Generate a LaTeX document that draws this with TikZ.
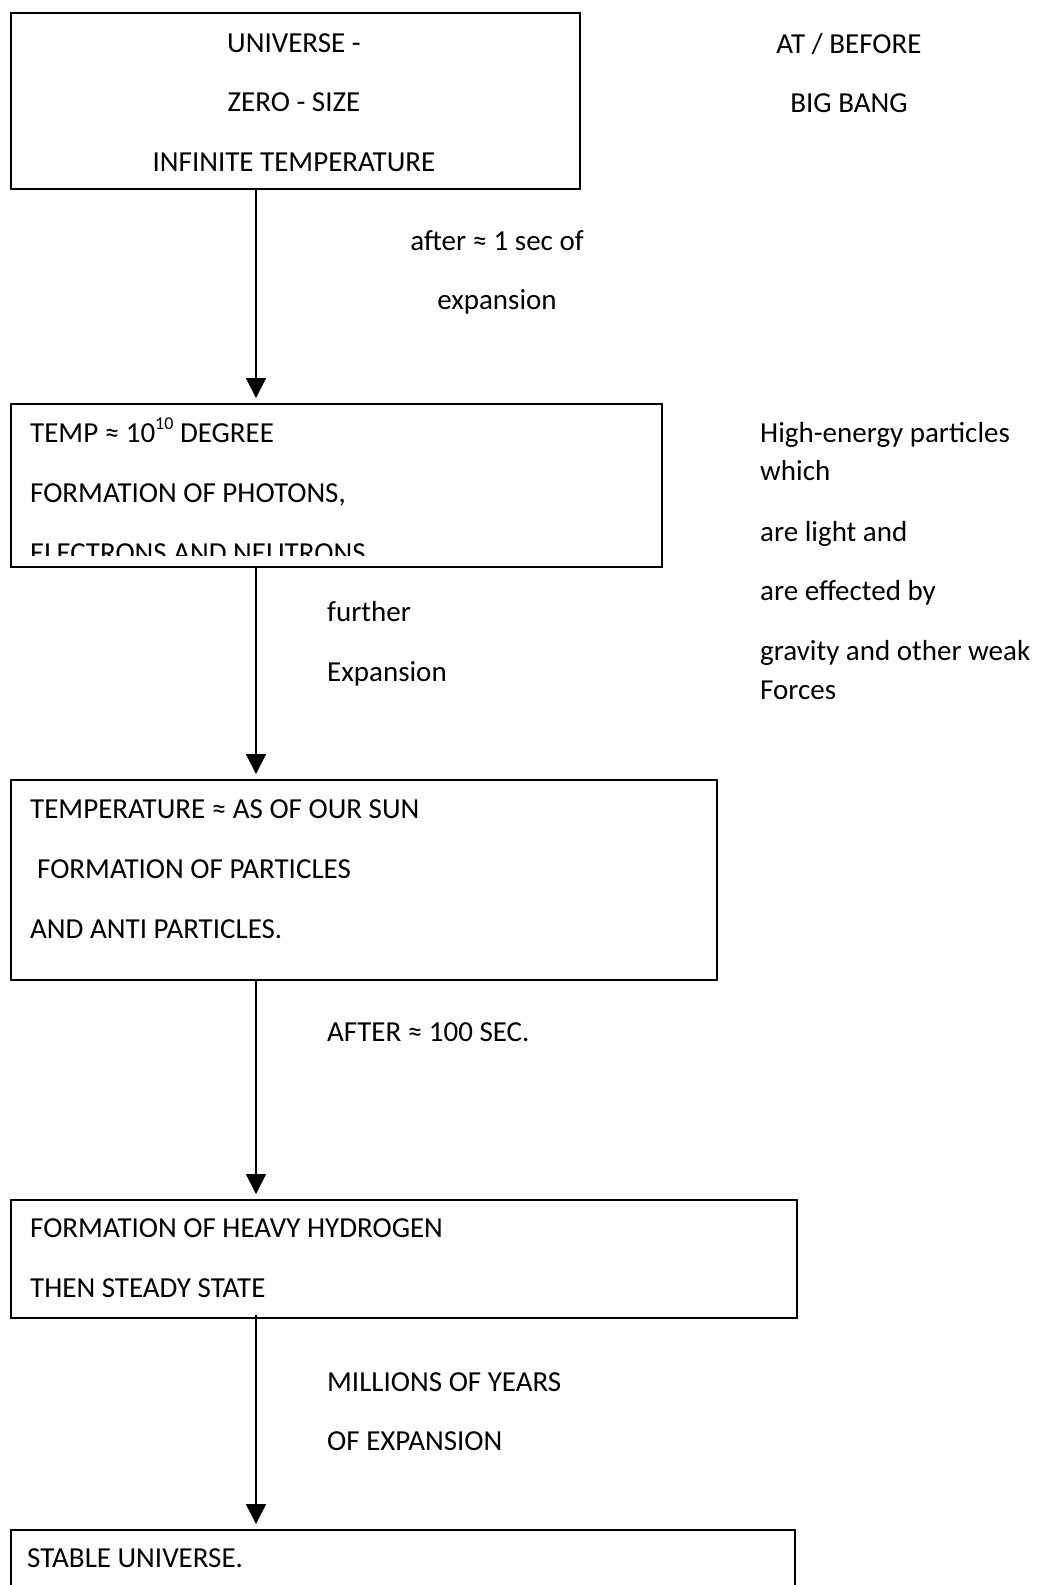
\documentclass[tikz,border=0pt]{standalone}
\usepackage{fontspec}
\setmainfont{Carlito}
\usetikzlibrary{arrows.meta}
\begin{document}
\begin{tikzpicture}[x=1pt,y=-1pt,
  box/.style={draw,line width=1.8pt,rectangle,inner sep=0pt,anchor=north west},
  txt/.style={inner sep=0pt,font=\fontsize{29}{35}\selectfont},
  lt/.style={txt,anchor=base west},
  ct/.style={txt,anchor=base},
  arr/.style={line width=1.6pt,-{Triangle[length=20pt,width=20pt]},shorten >=5pt}]
\clip (0,0) rectangle (1040,1585);
\fill[white] (0,0) rectangle (1040,1585);
\coordinate (col) at (256,0);
% boxes
\node[box,minimum width=569pt,minimum height=176pt] (b1) at (10,12) {};
\node[box,minimum width=651pt,minimum height=163pt] (b2) at (10,403) {};
\node[box,minimum width=706pt,minimum height=200pt] (b3) at (10,779) {};
\node[box,minimum width=786pt,minimum height=118pt] (b4) at (10,1199) {};
\node[box,minimum width=784pt,minimum height=91pt] (b5) at (10,1529) {};
% box 1 text
\node[ct] (t1a) at (294,52) {UNIVERSE -};
\node[ct] (t1b) at (294,111) {ZERO - SIZE};
\node[ct] (t1c) at (294,171) {INFINITE TEMPERATURE};
\node[ct] (r1a) at (849,53) {AT / BEFORE};
\node[ct] (r1b) at (849,112) {BIG BANG};
% arrow 1
\draw[arr] (b1.south -| col) -- (b2.north -| col);
\node[ct] (l1a) at (497,250) {after ≈ 1 sec of};
\node[ct] (l1b) at (497,309) {expansion};
% box 2
\node[lt] (t2a) at (30,442) {TEMP ≈ 10\raisebox{0.42em}{\fontsize{18}{18}\selectfont 10} DEGREE};
\node[lt] (t2b) at (30,502) {FORMATION OF PHOTONS,};
\begin{scope}
\clip (20,530) rectangle (650,555);
\node[lt] (t2c) at (30,562) {ELECTRONS AND NEUTRONS};
\end{scope}
\node[lt] (r2a) at (760,442) {High-energy particles};
\node[lt] (r2b) at (760,480) {which};
\node[lt] (r2c) at (760,541) {are light and};
\node[lt] (r2d) at (760,600) {are effected by};
\node[lt] (r2e) at (760,660) {gravity and other weak};
\node[lt] (r2f) at (760,699) {Forces};
% arrow 2
\draw[arr] (b2.south -| col) -- (b3.north -| col);
\node[lt] (l2a) at (327,621) {further};
\node[lt] (l2b) at (327,681) {Expansion};
% box 3
\node[lt] (t3a) at (30,818) {TEMPERATURE ≈ AS OF OUR SUN};
\node[lt] (t3b) at (37,878) {FORMATION OF PARTICLES};
\node[lt] (t3c) at (30,938) {AND ANTI PARTICLES.};
% arrow 3
\draw[arr] (b3.south -| col) -- (b4.north -| col);
\node[lt] (l3a) at (327,1041) {AFTER ≈ 100 SEC.};
% box 4
\node[lt] (t4a) at (30,1237) {FORMATION OF HEAVY HYDROGEN};
\node[lt] (t4b) at (30,1297) {THEN STEADY STATE};
% arrow 4
\draw[arr] ([yshift=4pt]b4.south -| col) -- (b5.north -| col);
\node[lt] (l4a) at (327,1391) {MILLIONS OF YEARS};
\node[lt] (l4b) at (327,1450) {OF EXPANSION};
% box 5
\node[lt] (t5a) at (27,1567) {STABLE UNIVERSE.};
\end{tikzpicture}
\end{document}
